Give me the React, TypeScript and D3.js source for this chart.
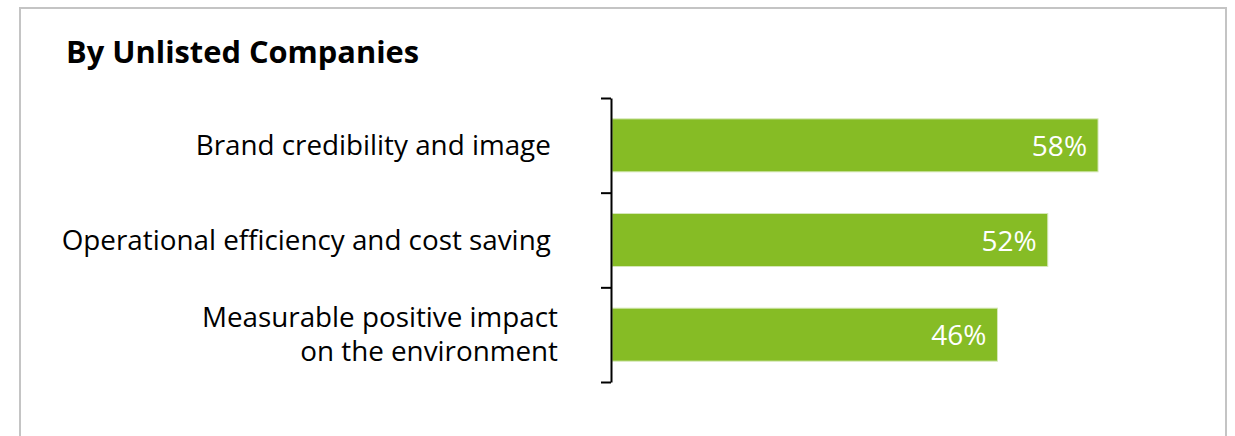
import React, { useEffect, useRef } from 'react'
import * as d3 from 'd3'

const title = 'By Unlisted Companies'
const categories = [
  ['Brand credibility and image '],
  ['Operational efficiency and cost saving '],
  ['Measurable positive impact', 'on the environment'],
]
const values = [58, 52, 46]

function App() {
  const svgRef = useRef<SVGSVGElement>(null)

  useEffect(() => {
    const width = 1235
    const height = 436
    const font = '"Open Sans", sans-serif'
    const svg = d3.select(svgRef.current)
    svg.selectAll('*').remove()
    svg.attr('width', width).attr('height', height)

    // frame
    svg.append('path')
      .attr('d', `M20,${height} V8 H1226 V${height}`)
      .style('fill', 'none')
      .style('stroke', '#c4c4c4')
      .style('stroke-width', 2)

    svg.append('text')
      .attr('x', 66)
      .attr('y', 63)
      .style('font-family', font)
      .style('font-weight', 700)
      .style('font-size', '30.8px')
      .style('fill', '#000')
      .text(title)

    //scales
    const idx = d3.range(categories.length)
    const yScale = d3.scaleBand<number>()
      .domain(idx)
      .range([98, 382])
      .paddingInner(0.44)
      .paddingOuter(0.22)
    const xScale = d3.scaleLinear()
      .domain([0, 100])
      .range([612, 1450])
    const tickScale = d3.scaleLinear()
      .domain([0, categories.length])
      .range([98, 382])

    //bars
    svg.append('g')
      .selectAll('rect')
      .data(values)
      .join('rect')
      .attr('x', xScale(0))
      .attr('y', (d, i) => yScale(i)!)
      .attr('width', d => xScale(d) - xScale(0))
      .attr('height', yScale.bandwidth())
      .style('fill', '#86bc25')
      .style('stroke', '#d6e8b8')
      .style('stroke-width', 1)

    //value labels
    svg.append('g')
      .selectAll('text')
      .data(values)
      .join('text')
      .attr('x', d => xScale(d) - 11)
      .attr('y', (d, i) => yScale(i)! + yScale.bandwidth() / 2 + 10.5)
      .attr('text-anchor', 'end')
      .style('font-family', font)
      .style('font-size', '28px')
      .style('fill', '#fff')
      .text(d => `${d}%`)

    //axis
    const axis = svg.append('g')
      .attr('transform', `translate(${xScale(0) - 1},0)`)
      .call(d3.axisLeft(tickScale).ticks(categories.length).tickFormat(() => '').tickSize(10).tickSizeOuter(0))
    axis.select('.domain').style('stroke', '#000').style('stroke-width', 2)
    axis.selectAll('.tick line').style('stroke', '#000').style('stroke-width', 2)

    //category labels
    const labels = svg.append('g')
      .selectAll('text')
      .data(categories)
      .join('text')
      .attr('text-anchor', 'end')
      .style('font-family', font)
      .style('font-size', '27.8px')
      .style('fill', '#000')
      .style('white-space', 'pre')
    labels.each(function (lines, i) {
      const cy = yScale(i)! + yScale.bandwidth() / 2
      const n = lines.length
      d3.select(this)
        .selectAll('tspan')
        .data(lines)
        .join('tspan')
        .attr('x', 558)
        .attr('y', (l, j) => cy + 9.5 + (j - (n - 1) / 2) * 34)
        .text(l => l)
    })
  }, [])

  return (
    <svg ref={svgRef} style={{ position: 'absolute', left: 0, top: 0 }}></svg>
  )
}

export default App
